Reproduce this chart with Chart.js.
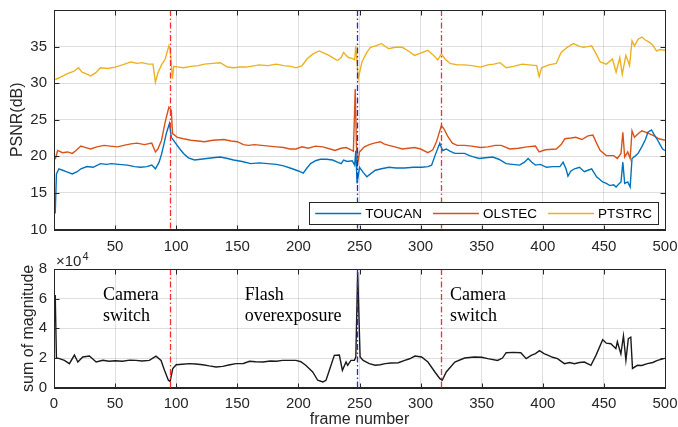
<!DOCTYPE html>
<html><head><meta charset="utf-8">
<script src="https://cdn.jsdelivr.net/npm/chart.js@4.4.1/dist/chart.umd.min.js"></script>
<style>
html,body{margin:0;padding:0;background:#fff;overflow:hidden;width:678px;height:427px}
.wrap{position:absolute;left:0}
</style></head><body>
<div class="wrap" style="top:0;width:678px;height:256px"><canvas id="c1" width="678" height="256"></canvas></div>
<div class="wrap" style="top:248px;width:678px;height:182px"><canvas id="c2" width="678" height="182"></canvas></div>
<script>
// ---------------- data ----------------
const xTicks = [0,50,100,150,200,250,300,350,400,450,500];
const psnrTicks = [10,15,20,25,30,35];
const magTicks = [0,2,4,6,8];
const seriesNames = ['TOUCAN','OLSTEC','PTSTRC'];
const eventFrames = [95, 248, 317];
const eventKinds = ['camera','flash','camera'];
const annotationLines = [['Camera','switch'],['Flash','overexposure'],['Camera','switch']];
const annotationFrames = [40, 156, 324];

const toucanFrames = [1,2,4,7,10,15,19,22,27,32,38,43,47,53,60,66,71,76,80,83,86,88,90,92,94.5,96,99,103,106,110,115,120,125,130,136,142,147,154,161,168,175,182,188,195,200,204,207,210,214,218,223,228,232,235,237,240,244,246,247,248,250,253,256,259,263,268,274,280,287,294,301,306,309,312,315.7,318,321,324,328,332,336,340,344,348,353,359,364,370,375,381,385,388,391,394,398,403,408,414,416.6,419,420.6,423,426,430,434,437,440,444,449,452,455,458,460,462,464,465.5,467,469.5,471.5,473,476,478,481,484,486,489,491,494,496,498,500];
const toucanPSNR = [12.2,17.6,18.3,18.1,17.9,17.6,17.9,18.3,18.6,18.5,19.0,18.9,19.0,18.9,18.8,18.6,18.5,18.6,18.8,18.3,19.2,20.3,21.7,23.2,24.5,22.6,21.9,21.0,20.4,19.8,19.5,19.6,19.7,19.8,19.9,19.7,19.5,19.3,19.0,19.1,19.0,18.9,18.7,18.3,18.0,17.7,18.4,19.0,19.4,19.6,19.6,19.5,19.2,19.0,19.5,19.3,19.4,18.8,20.8,16.3,18.5,17.8,17.2,17.6,18.1,18.3,18.5,18.4,18.4,18.5,18.5,18.6,18.8,20.2,21.8,20.8,21.0,20.7,20.4,20.4,20.4,20.1,19.9,19.7,19.8,19.9,19.6,19.0,18.9,18.8,19.2,19.7,19.2,18.8,18.9,18.5,18.6,18.6,19.2,18.3,17.3,18.0,18.3,18.5,17.9,18.1,18.3,17.2,16.5,16.3,16.0,16.1,15.8,16.2,16.5,19.2,16.3,16.5,15.8,19.7,20.1,20.4,21.3,22.3,23.3,23.6,23.0,22.2,21.6,21.0,20.8];

const olstecFrames = [1,3,7,11,15,18,22,26,30,35,41,46,52,57,63,68,74,80,83,85,88,91,94,96,97,101,106,112,118,123,130,139,145,150,155,159,164,170,176,182,188,193,198,203,208,214,220,226,230,235,239,243,245,246.5,247.5,248.5,250,254,258,262,267,270,274,279,285,290,295,300,306,310,313,317,319,322,326,330,336,342,349,355,361,366,373,380,387,394,397,402,411,415,418,423,427,432,437,441,444,447,452,458,461,464,465.5,467,469.5,471.5,473,475,478,481,484,487,491,495,500];
const olstecPSNR = [19.6,20.8,20.5,20.6,20.4,20.8,21.4,21.2,21.0,21.3,21.5,21.4,21.3,21.5,21.7,21.8,21.6,21.8,20.6,21.0,22.2,24.7,26.7,26.3,23.1,22.6,22.4,22.2,22.1,22.0,22.2,22.3,22.1,22.0,21.6,21.5,21.6,21.5,21.4,21.3,21.2,21.0,21.0,21.3,21.1,21.4,21.3,21.0,20.8,21.1,21.2,20.9,20.7,29.2,21.5,19.0,20.6,21.3,21.6,21.8,22.0,21.7,21.5,21.3,21.0,21.1,21.2,21.0,20.5,20.9,22.0,24.2,23.8,22.8,21.8,21.5,21.5,21.4,21.2,21.3,21.5,21.5,21.0,21.1,21.3,21.4,20.6,20.9,21.0,21.6,22.4,22.5,22.6,22.3,22.8,22.9,21.8,20.8,20.1,20.1,19.7,20.4,23.3,19.9,20.6,19.7,23.5,22.6,23.1,23.5,23.3,23.1,22.8,22.4,22.2];

const ptstrcFrames = [1,5,11,16,20,23,26,30,34,38,44,50,56,63,68,72,77,81,83,85,88,91,94,95,97,98,102,106,112,118,123,130,136,142,147,152,157,161,168,175,182,188,194,198,203,207,212,217,221,225,229,232,235,237,239,241,244,246,247,249,252,256,259,263,268,274,279,285,290,295,300,306,310,314,317,320,324,330,336,342,349,355,360,365,370,376,383,389,395,397,399,405,411,415,420,425,429,433,437,440,443,447,452,457,460,463,465,468,471,473,475,478,481,484,487,490,493,496,500];
const ptstrcPSNR = [30.5,30.8,31.3,31.6,32.1,31.5,31.3,31.0,31.4,32.1,32.0,32.2,32.5,32.9,32.7,32.8,32.6,32.6,30.1,31.4,32.5,33.3,35.1,34.7,30.6,32.3,32.2,32.1,32.3,32.4,32.6,32.7,32.8,32.2,32.1,32.2,32.2,32.3,32.5,32.4,32.6,32.4,32.3,32.1,32.4,33.3,34.0,34.4,34.1,33.8,33.4,33.1,33.5,34.2,33.8,33.5,33.4,33.2,35.1,30.6,32.9,34.2,34.9,35.1,35.4,34.7,34.9,34.9,34.4,33.8,34.1,34.5,33.9,33.2,34.0,33.3,32.7,32.5,32.5,32.4,32.2,32.5,32.6,32.8,32.1,32.3,32.6,32.5,32.4,30.9,32.1,32.5,32.7,34.2,34.9,35.4,35.1,34.9,35.0,35.1,34.2,32.9,32.6,33.3,31.5,33.5,31.2,33.8,32.4,35.8,35.1,36.0,36.3,35.9,35.6,35.2,34.4,34.6,34.5];

// sum of magnitude, in units of 10^4
const magFrames = [1,2,4.5,8.5,12.6,16.7,19.5,23.5,29,34.5,40,45,50,56,62,67,72,78,83.5,87.6,90.4,93.6,95,97.2,100,105,111,116,121.7,127,132.6,138,144,149,155,160,165,171,177,182,187,192.6,198,202,206,211.7,215.8,220,222.6,226.7,229.4,233.5,236,239,240.3,243,245.8,247,248.5,250.5,253,258,262.8,267,271,276,281.8,287,291,295.4,300.8,306,311.7,315.8,317.7,321,328,336,344,350,355,363,367,370,376,382,386.4,390.5,394,397.3,401,404,408,412,417.7,422,425.8,430,434,439.4,443.5,449,452,455.7,459.8,461,463.9,466,468,470,472,473.4,477.4,481,485.6,490,493.8,499,500];
const magValues = [6.25,2.0,1.96,1.84,1.62,2.2,1.73,2.07,2.13,1.73,1.85,1.78,1.82,1.78,1.86,1.84,1.80,1.84,2.13,1.84,1.17,0.5,0.43,1.29,1.55,1.58,1.62,1.6,1.55,1.47,1.4,1.44,1.55,1.62,1.63,1.78,1.75,1.73,1.8,1.78,1.84,1.84,1.84,1.75,1.51,1.06,0.5,0.39,0.5,1.51,2.18,2.2,1.17,1.73,1.51,1.84,1.84,2.07,7.8,2.07,1.84,1.62,1.51,1.55,1.62,1.66,1.68,1.84,1.95,2.13,2.07,1.73,1.06,0.61,0.5,1.06,1.73,2.0,2.07,2.05,1.96,1.84,2.0,2.36,2.38,2.36,1.96,2.18,2.3,2.5,2.3,2.2,2.05,1.96,1.62,1.7,1.62,1.7,1.73,1.51,2.18,3.24,3.0,2.96,2.63,3.1,2.27,3.5,1.84,3.3,3.4,1.3,1.51,1.5,1.62,1.7,1.84,1.96,1.98];

// ---------------- styles ----------------
const AX = '#262626';
const GRID = 'rgba(38,38,38,0.15)';
const SANS = "'Liberation Sans', Arial, sans-serif";
const SERIF = "'Liberation Serif', 'Times New Roman', serif";
const seriesColors = ['#0072BD','#D95319','#EDB120'];
const eventColors = {camera:'rgb(255,45,45)', flash:'rgb(35,35,255)'};

const pts = (fs, vs) => fs.map((f,i)=>({x:f, y:vs[i]}));
const noPad = s => { s.paddingLeft = 0; s.paddingRight = 0; s.paddingTop = 0; s.paddingBottom = 0; };

const boxPlugin = {
  id:'matBox',
  afterDatasetsDraw(chart){
    const {ctx, chartArea:a, scales:{x,y}} = chart;
    ctx.save();
    eventFrames.forEach((f,i)=>{
      const px = Math.round(x.getPixelForValue(f)) + 0.5;
      ctx.strokeStyle = eventColors[eventKinds[i]];
      ctx.lineWidth = 1.3;
      ctx.setLineDash([6,2.5,1.5,2.5]);
      ctx.beginPath(); ctx.moveTo(px, a.top); ctx.lineTo(px, a.bottom); ctx.stroke();
    });
    ctx.setLineDash([]);
    ctx.strokeStyle = AX; ctx.lineWidth = 1;
    const l = Math.round(a.left)+0.5, r = Math.round(a.right)+0.5, t = Math.round(a.top)+0.5, b = Math.round(a.bottom)+0.5;
    ctx.strokeRect(l, t, r-l, b-t);
    const L = 5;
    ctx.beginPath();
    x.ticks.forEach(tk=>{ const px = Math.round(x.getPixelForValue(tk.value))+0.5;
      ctx.moveTo(px,b); ctx.lineTo(px,b-L); ctx.moveTo(px,t); ctx.lineTo(px,t+L); });
    y.ticks.forEach(tk=>{ const py = Math.round(y.getPixelForValue(tk.value))+0.5;
      ctx.moveTo(l,py); ctx.lineTo(l+L,py); ctx.moveTo(r,py); ctx.lineTo(r-L,py); });
    ctx.stroke();
    ctx.restore();
  }
};

const legendPlugin = {
  id:'matLegend',
  afterDraw(chart){
    const {ctx, chartArea:a} = chart;
    ctx.save();
    ctx.font = "13.5px " + SANS;
    const lineLen = 46, gap1 = 4, gap2 = 11, padL = 6, padR = 6;
    const widths = seriesNames.map(n=>ctx.measureText(n).width);
    let total = padL + padR;
    widths.forEach((w,i)=>{ total += lineLen + gap1 + w + (i<widths.length-1?gap2:0); });
    const right = Math.round(a.right) - 7, bottom = Math.round(a.bottom) - 6;
    const h = 22, left = right - total, top = bottom - h;
    ctx.fillStyle = '#fff';
    ctx.fillRect(left, top, total, h);
    ctx.strokeStyle = AX; ctx.lineWidth = 1;
    ctx.strokeRect(Math.round(left)+0.5, top+0.5, Math.round(total), h);
    let cx = left + padL;
    const cy = top + h/2 + 0.5;
    seriesNames.forEach((n,i)=>{
      ctx.strokeStyle = seriesColors[i]; ctx.lineWidth = 1.5;
      ctx.beginPath(); ctx.moveTo(cx, cy); ctx.lineTo(cx+lineLen, cy); ctx.stroke();
      cx += lineLen + gap1;
      ctx.fillStyle = '#000'; ctx.textBaseline = 'middle'; ctx.textAlign = 'left';
      ctx.fillText(n, cx, cy+0.5);
      cx += widths[i] + gap2;
    });
    ctx.restore();
  }
};

const notePlugin = {
  id:'notes',
  afterDraw(chart){
    const {ctx, chartArea:a, scales:{x,y}} = chart;
    ctx.save();
    ctx.fillStyle = '#000';
    ctx.font = "18px " + SERIF;
    ctx.textBaseline = 'alphabetic'; ctx.textAlign = 'left';
    annotationLines.forEach((lines,i)=>{
      const px = x.getPixelForValue(annotationFrames[i]);
      lines.forEach((s,j)=>{ ctx.fillText(s, px, y.getPixelForValue(5.93 - j*1.46)); });
    });
    ctx.fillStyle = AX;
    ctx.font = "15px " + SANS;
    ctx.fillText('\u00d710', a.left + 2, a.top - 3);
    const w = ctx.measureText('\u00d710').width;
    ctx.font = "11px " + SANS;
    ctx.fillText('4', a.left + 2 + w + 1, a.top - 9);
    ctx.restore();
  }
};

Chart.defaults.font.family = SANS;
Chart.defaults.color = AX;

function xScale(showZero, tickPad, height, title){
  return {
    type:'linear', min:0, max:500,
    afterBuildTicks: s => { s.ticks = xTicks.map(v=>({value:v})); },
    afterFit: s => { s.height = height; noPad(s); },
    ticks:{ autoSkip:false, maxRotation:0, padding:tickPad, font:{size:15}, color:AX,
      callback: v => (!showZero && v===0) ? '' : String(v) },
    grid:{ color:GRID, drawTicks:false, lineWidth:1 },
    border:{ display:true, color:AX },
    title: title ? { display:true, text:title, font:{size:16}, color:AX, padding:{top:0,bottom:1} } : {display:false}
  };
}

new Chart(document.getElementById('c1'), {
  type:'line',
  data:{ datasets: seriesNames.map((n,i)=>({
    label:n,
    data: pts([toucanFrames,olstecFrames,ptstrcFrames][i],[toucanPSNR,olstecPSNR,ptstrcPSNR][i]),
    borderColor: seriesColors[i], borderWidth:1.4, pointRadius:0, tension:0, fill:false
  }))},
  options:{
    responsive:false, animation:false, devicePixelRatio:1,
    layout:{ padding:{top:10, right:13, left:0, bottom:0} },
    plugins:{ legend:{display:false}, tooltip:{enabled:false} },
    scales:{
      x: xScale(false, 8.5, 26.5, null),
      y:{ type:'linear', min:10, max:40,
        afterBuildTicks: s => { s.ticks = psnrTicks.concat([40]).map(v=>({value:v})); },
        afterFit: s => { s.width = 54; noPad(s); },
        ticks:{ padding:7, font:{size:15}, color:AX, callback: v => v===40 ? '' : String(v) },
        grid:{ color:GRID, drawTicks:false }, border:{display:true, color:AX},
        title:{ display:true, text:'PSNR(dB)', font:{size:16}, color:AX, padding:{top:8.4,bottom:0} } }
    }
  },
  plugins:[boxPlugin, legendPlugin]
});

new Chart(document.getElementById('c2'), {
  type:'line',
  data:{ datasets:[{ label:'sum of magnitude', data: pts(magFrames, magValues),
    borderColor:'#1a1a1a', borderWidth:1.4, pointRadius:0, tension:0, fill:false }]},
  options:{
    responsive:false, animation:false, devicePixelRatio:1,
    layout:{ padding:{top:21, right:13, left:0, bottom:0} },
    plugins:{ legend:{display:false}, tooltip:{enabled:false} },
    scales:{
      x: xScale(true, 7.3, 42.3, 'frame number'),
      y:{ type:'linear', min:0, max:8,
        afterBuildTicks: s => { s.ticks = magTicks.map(v=>({value:v})); },
        afterFit: s => { s.width = 54; noPad(s); },
        ticks:{ padding:7, font:{size:15}, color:AX },
        grid:{ color:GRID, drawTicks:false }, border:{display:true, color:AX},
        title:{ display:true, text:'sum of magnitude', font:{size:16}, color:AX, padding:{top:19,bottom:0} } }
    }
  },
  plugins:[boxPlugin, notePlugin]
});
</script>
</body></html>
